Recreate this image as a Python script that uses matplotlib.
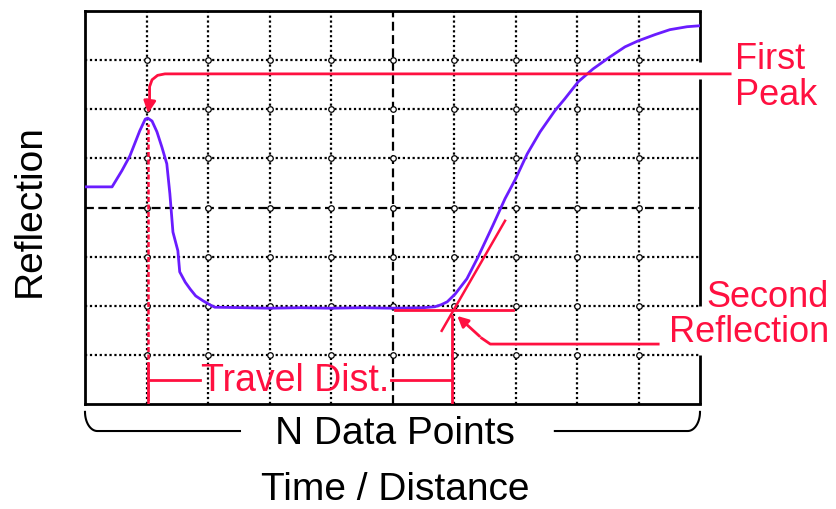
import numpy as np
import matplotlib
matplotlib.use('Agg')
import matplotlib.pyplot as plt

plt.rcParams['font.family'] = ['Liberation Sans', 'DejaVu Sans']

# reflection trace (x: 0-10 divisions, y: 0-8 divisions)
trace_x = [0, 0.44, 0.60, 0.73, 0.89, 0.98, 1.02, 1.09, 1.17, 1.25, 1.33, 1.38, 1.43,
           1.51, 1.54, 1.63, 1.71, 1.80, 1.92, 2.03, 2.11, 2.6, 3.0, 3.5, 4.0, 4.5,
           5.0, 5.5, 5.69, 5.79, 5.89, 6.02, 6.21, 6.39, 6.63, 6.83, 7.0, 7.19, 7.40,
           7.64, 7.80, 8.02, 8.26, 8.54, 8.78, 8.99, 9.27, 9.51, 9.79, 10.0]
trace_y = [4.42, 4.42, 4.75, 5.05, 5.56, 5.80, 5.82, 5.76, 5.54, 5.23, 4.89, 4.28, 3.50,
           3.12, 2.69, 2.48, 2.34, 2.20, 2.10, 2.02, 1.97, 1.96, 1.95, 1.96, 1.95, 1.96,
           1.95, 1.96, 1.98, 2.02, 2.08, 2.24, 2.55, 2.99, 3.63, 4.18, 4.58, 5.09, 5.54,
           5.97, 6.21, 6.56, 6.82, 7.07, 7.27, 7.39, 7.52, 7.62, 7.68, 7.70]

peak_x = 1.03
second_x = 5.97
baseline_y = 1.91
tangent_x = [5.80, 6.83]
tangent_y = [1.49, 3.73]

blue = '#6a1cff'
red = '#ff1040'

fig = plt.figure(figsize=(8.37, 5.10), dpi=100)
ax = fig.add_axes([85/837, 1-405/510, 615/837, 393/510])
ax.set_xlim(0, 10)
ax.set_ylim(0, 8)
ax.set_xticks([])
ax.set_yticks([])

# graticule
for gx in range(1, 10):
    ls = (0, (4, 2)) if gx == 5 else (0, (1, 1.2))
    ax.axvline(gx, color='black', lw=1.6, ls=ls, zorder=1)
for gy in range(1, 8):
    ls = (0, (4, 2)) if gy == 4 else (0, (1, 1.2))
    ax.axhline(gy, color='black', lw=1.6, ls=ls, zorder=1)
gx, gy = np.meshgrid(np.arange(1, 10), np.arange(1, 8))
ax.plot(gx.ravel(), gy.ravel(), 'o', ms=4, mfc='white', mec='black', mew=0.9, zorder=2)

for s in ['left', 'bottom', 'top']:
    ax.spines[s].set_linewidth(2)
ax.spines['right'].set_visible(False)
for y0, y1 in [(0, 1.0), (2.0, 6.62), (6.97, 8)]:
    ax.plot([10, 10], [y0, y1], color='black', lw=2, clip_on=False, solid_capstyle='butt')

# trace
ax.plot(trace_x, trace_y, color=blue, lw=2, zorder=4)

# first peak marker
ax.plot([peak_x, peak_x], [0, 5.70], color=red, lw=1.8, ls=(0, (2, 1)), zorder=3)
ax.plot([10.49, 1.30, 1.18, 1.09, 1.05, 1.05], [6.72, 6.72, 6.69, 6.60, 6.46, 6.1],
        color=red, lw=2, clip_on=False, zorder=5)
ax.annotate('', xy=(1.02, 5.86), xytext=(1.05, 6.15),
            arrowprops=dict(arrowstyle='-|>', color=red, lw=2, mutation_scale=18))
ax.text(10.57, 7.03, 'First', color=red, fontsize=26, ha='left', va='center', clip_on=False)
ax.text(10.57, 6.31, 'Peak', color=red, fontsize=26, ha='left', va='center', clip_on=False)

# second reflection construction
ax.plot([5.04, 6.96], [baseline_y, baseline_y], color=red, lw=2, zorder=5)
ax.plot(tangent_x, tangent_y, color=red, lw=1.8, zorder=5)
ax.plot([second_x, second_x], [0, 1.79], color=red, lw=2, zorder=3)
ax.plot([9.32, 6.59, 6.45], [1.22, 1.22, 1.34], color=red, lw=2, clip_on=False, zorder=5)
ax.annotate('', xy=(6.02, 1.83), xytext=(6.45, 1.34),
            arrowprops=dict(arrowstyle='-|>', color=red, lw=2, mutation_scale=16))
ax.text(12.1, 2.18, 'Second', color=red, fontsize=26, ha='right', va='center', clip_on=False)
ax.text(12.1, 1.47, 'Reflection', color=red, fontsize=26, ha='right', va='center', clip_on=False)

# travel distance
ax.plot([peak_x, 1.87], [0.49, 0.49], color=red, lw=2, zorder=5)
ax.plot([4.98, second_x], [0.49, 0.49], color=red, lw=2, zorder=5)
ax.plot([peak_x, peak_x], [0.1, 0.82], color=red, lw=2, zorder=5)
ax.text(3.42, 0.49, 'Travel Dist.', color=red, fontsize=27, ha='center', va='center')

# N data points bracket
t = np.linspace(0, np.pi / 2, 20)
r, h, yb = 0.2, 0.39, -0.55
lx = list(r * (1 - np.cos(t))) + [2.52]
ly = list(yb + h * (1 - np.sin(t))) + [yb]
ax.plot(lx, ly, color='black', lw=1.5, clip_on=False)
rx = list(10 - r * (1 - np.cos(t))) + [7.64]
ax.plot(rx, ly, color='black', lw=1.5, clip_on=False)
ax.text(5.04, -0.60, 'N Data Points', fontsize=28, ha='center', va='center', clip_on=False)

fig.text(395/837, 1-490/510, 'Time / Distance', fontsize=28, ha='center', va='center')
fig.text(30/837, 1-211/510, 'Reflection', fontsize=28, ha='center', va='center', rotation=90)

fig.savefig('out.png', dpi=100)
